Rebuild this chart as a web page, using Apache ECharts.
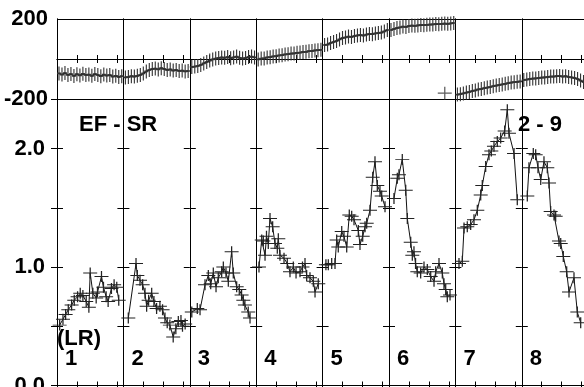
<!DOCTYPE html>
<html><head><meta charset="utf-8">
<script src="https://cdn.jsdelivr.net/npm/echarts@6/dist/echarts.min.js"></script>
<style>html,body{margin:0;padding:0;background:#fff}#c{width:584px;height:387px}</style>
</head><body><div id="c"></div>
<script>
// ---------- data ----------
const panelLabels = ['1', '2', '3', '4', '5', '6', '7', '8'];
const titleLeft = 'EF - SR';
const titleRight = '2 - 9';
const cornerLabel = '(LR)';
const phaseTickLabels = { '200': '200', '-200': '-200' };
const amplTickLabels = { '0': '0.0', '1': '1.0', '2': '2.0' };

// phase panel (top): x positions inside each panel (0..10) and values (deg)
const phaseX = [0.3, 0.75, 1.2, 1.65, 2.1, 2.55, 3.0, 3.45, 3.9, 4.35, 4.8, 5.25, 5.7, 6.15, 6.6, 7.05, 7.5, 7.95, 8.4, 8.85, 9.3, 9.75];
const ph1 = [-72, -78, -70, -80, -75, -85, -76, -82, -74, -80, -78, -84, -75, -80, -86, -78, -83, -80, -88, -84, -90, -86];
const ph2 = [-92, -90, -86, -88, -84, -80, -72, -62, -55, -50, -48, -52, -46, -50, -55, -52, -58, -55, -60, -58, -62, -60];
const ph3 = [-40, -38, -35, -30, -22, -15, -8, -2, 2, 5, 8, 6, 10, 4, 8, 12, 6, 2, 5, 10, 12, 8];
const ph4 = [-2, 2, 3, 8, 9, 13, 14, 18, 19, 23, 24, 27, 28, 31, 32, 35, 36, 39, 40, 43, 44, 46];
const ph5 = [70, 72, 80, 85, 90, 98, 105, 108, 112, 110, 115, 118, 120, 117, 122, 125, 124, 128, 130, 132, 138, 145];
const ph6 = [145, 150, 155, 158, 162, 160, 165, 167, 166, 168, 170, 169, 171, 172, 173, 175, 174, 176, 177, 176, 178, 180];
const ph7 = [-178, -176, -172, -168, -165, -160, -157, -152, -150, -146, -143, -140, -136, -133, -130, -127, -124, -121, -118, -116, -114, -112];
const ph8 = [-105, -103, -100, -98, -97, -95, -93, -92, -90, -88, -88, -86, -85, -88, -86, -90, -92, -95, -100, -108, -115, -125];
const ph6Wrapped = [[8.4, -171]];

// amplitude panel (bottom): [x inside panel (0..10), value]
const am1 = [[0.4,0.51],[0.9,0.56],[1.3,0.60],[1.7,0.64],[2.2,0.68],[2.6,0.72],[3.1,0.75],[3.5,0.78],[3.9,0.76],[4.4,0.71],[4.8,0.66],[5.0,0.95],[5.4,0.78],[5.9,0.74],[6.1,0.79],[6.7,0.92],[7.0,0.83],[7.4,0.75],[7.7,0.71],[8.2,0.82],[8.6,0.85],[9.0,0.83],[9.3,0.72]];
const am2 = [[0.74,0.57],[1.9,1.03],[2.1,0.93],[2.5,0.89],[2.9,0.85],[3.25,0.78],[3.5,0.67],[3.8,0.72],[4.26,0.78],[4.6,0.71],[5.0,0.65],[5.5,0.67],[5.9,0.64],[6.26,0.57],[6.6,0.53],[7.0,0.51],[7.5,0.41],[7.9,0.48],[8.27,0.54],[8.67,0.55],[8.9,0.50],[9.3,0.52]];
const am3 = [[0.3,0.62],[1.13,0.65],[1.54,0.64],[2.29,0.85],[2.79,0.93],[3.15,0.86],[3.54,0.95],[3.95,0.835],[4.29,0.91],[4.8,0.96],[5.05,1.0],[5.45,0.95],[5.8,0.88],[6.3,1.13],[6.55,0.95],[7.06,0.835],[7.45,0.81],[7.8,0.765],[8.06,0.72],[8.3,0.68],[8.8,0.62],[9.07,0.57]];
const am4 = [[0.42,1.00],[0.83,1.23],[1.07,1.22],[1.33,1.10],[1.55,1.26],[1.82,1.20],[2.08,1.41],[2.48,1.34],[2.83,1.20],[3.18,1.16],[3.33,1.24],[3.58,1.10],[4.19,1.075],[4.68,1.03],[5.09,0.96],[5.59,1.0],[6.0,0.95],[6.6,0.96],[6.97,1.0],[7.35,1.03],[7.6,0.93],[8.1,0.91],[8.6,0.88],[8.86,0.79],[9.35,0.86]];
const am5 = [[0.5,1.02],[0.86,1.02],[1.37,1.03],[1.87,1.03],[2.12,1.23],[2.36,1.17],[2.88,1.30],[3.22,1.26],[3.63,1.17],[4.02,1.44],[4.38,1.43],[4.73,1.40],[5.38,1.31],[5.63,1.19],[6.04,1.26],[6.39,1.34],[6.64,1.37],[7.14,1.48],[7.55,1.76],[7.89,1.89],[8.24,1.69],[8.64,1.64],[8.9,1.60],[9.4,1.51]];
const am6 = [[0.75,1.58],[1.25,1.75],[1.5,1.78],[2.0,1.91],[2.52,1.65],[2.76,1.41],[3.27,1.21],[3.51,1.10],[3.76,1.13],[4.0,1.03],[4.26,0.96],[4.77,0.95],[5.27,1.0],[5.77,0.98],[6.28,0.92],[6.78,0.88],[7.03,0.96],[7.53,1.03],[8.03,0.95],[8.28,0.86],[8.54,0.81],[8.78,0.75],[9.19,0.765]];
const am7 = [[0.54,1.03],[1.04,1.05],[1.3,1.33],[1.79,1.34],[2.3,1.36],[2.8,1.40],[3.3,1.48],[3.81,1.61],[4.05,1.69],[4.56,1.85],[5.06,1.95],[5.41,1.98],[5.81,2.02],[6.31,2.06],[6.82,2.09],[7.42,2.15],[7.82,2.33],[8.07,2.13],[8.83,1.96],[9.32,1.57]];
const am8 = [[0.83,1.60],[1.08,1.84],[1.73,1.96],[2.09,1.95],[2.44,1.84],[2.85,1.74],[3.34,1.89],[3.84,1.84],[4.1,1.71],[4.35,1.47],[4.85,1.44],[5.1,1.43],[5.6,1.22],[5.86,1.20],[6.25,1.09],[6.76,0.96],[7.11,0.79],[7.86,0.91],[8.36,0.62],[8.87,0.53]];

// ---------- layout / style ----------
const FONT = "'Liberation Sans', Arial, Helvetica, sans-serif";
const L0 = 57, PW = 66.4, T0 = 19, TH = 80, BH = 286.5;
const PLUS = 'path://M0,4.55H10V5.45H0Z M4.55,0H5.45V10H4.55Z';
const PHASE_MARK = 'path://M0,4.4H10V5.6H0Z M3.6,0H6.4V10H3.6Z';
const phases = [ph1, ph2, ph3, ph4, ph5, ph6, ph7, ph8];
const ampls = [am1, am2, am3, am4, am5, am6, am7, am8];

const grid = [], xAxis = [], yAxis = [], series = [];
const line = { show: true, lineStyle: { color: '#000', width: 1 } };
const labelText = { fontFamily: FONT, fontWeight: 'bold', fontSize: 22, color: '#000' };

for (let k = 0; k < panelLabels.length; k++) {
  const left = L0 + k * PW;
  const gT = grid.length;
  grid.push({ left: left, top: T0, width: PW, height: TH, outerBoundsMode: 'none', containLabel: false });
  const gB = grid.length;
  grid.push({ left: left, top: T0 + TH, width: PW, height: BH, outerBoundsMode: 'none', containLabel: false });

  [gT, gB].forEach(g => {
    ['bottom', 'top'].forEach(pos => xAxis.push({
      gridIndex: g, type: 'value', min: 0, max: 10, interval: 3, position: pos,
      axisLine: line, axisTick: { show: true, inside: true, length: 4, lineStyle: { color: '#000' } },
      axisLabel: { show: false }, splitLine: { show: false }
    }));
  });
  // top (phase) y axes
  yAxis.push({
    gridIndex: gT, type: 'value', min: -200, max: 200, interval: 200, position: 'left',
    axisLine: line, axisTick: { show: false },
    splitLine: { show: true, lineStyle: { color: '#000', width: 1 } },
    axisLabel: Object.assign({ show: k === 0, margin: 9,
      formatter: v => phaseTickLabels[String(Math.round(v))] || '' }, labelText)
  });
  yAxis.push({
    gridIndex: gT, type: 'value', min: -200, max: 200, interval: 200, position: 'right',
    axisLine: line, axisTick: { show: false }, splitLine: { show: false }, axisLabel: { show: false }
  });
  // bottom (amplitude) y axes
  yAxis.push({
    gridIndex: gB, type: 'value', min: 0, max: 2.42, interval: 0.5, position: 'left',
    axisLine: line, axisTick: { show: true, inside: true, length: 6, lineStyle: { color: '#000' } },
    splitLine: { show: false },
    axisLabel: Object.assign({ show: k === 0, margin: 12,
      formatter: v => (Math.abs(v - Math.round(v)) < 1e-6 ? (amplTickLabels[String(Math.round(v))] || '') : '') }, labelText)
  });
  yAxis.push({
    gridIndex: gB, type: 'value', min: 0, max: 2.42, interval: 0.5, position: 'right',
    axisLine: line, axisTick: { show: true, inside: true, length: 6, lineStyle: { color: '#000' } },
    splitLine: { show: false }, axisLabel: { show: false }
  });

  series.push({
    type: 'line', xAxisIndex: 2 * gT, yAxisIndex: 2 * gT,
    data: phaseX.map((x, i) => [x, phases[k][i]]),
    symbol: PHASE_MARK, symbolSize: [4, 14], showAllSymbol: true,
    itemStyle: { color: '#333' }, lineStyle: { color: '#000', width: 1.5 }, z: 3
  });
  series.push({
    type: 'line', xAxisIndex: 2 * gB, yAxisIndex: 2 * gB,
    data: ampls[k],
    symbol: PLUS, symbolSize: [14, 11], showAllSymbol: true,
    itemStyle: { color: '#222' }, lineStyle: { color: '#111', width: 1 }, z: 3
  });
}
// wrapped phase point in panel 6
series.push({
  type: 'scatter', xAxisIndex: 2 * 10, yAxisIndex: 2 * 10, data: ph6Wrapped,
  symbol: PLUS, symbolSize: [14, 13], itemStyle: { color: '#333' }, z: 3
});

const txt = (s, x, y) => ({ type: 'text', left: x, top: y, z: 100,
  style: { text: s, font: 'bold 22px ' + FONT, fill: '#000' } });
const graphic = [
  txt(titleLeft, 79, 114),
  txt(titleRight, 518, 114),
  txt(cornerLabel, 57, 328)
];
panelLabels.forEach((s, k) => graphic.push(txt(s, L0 + k * PW + 8, 348)));

const chart = echarts.init(document.getElementById('c'), null, { renderer: 'canvas' });
chart.setOption({
  animation: false, backgroundColor: '#fff',
  grid, xAxis, yAxis, series, graphic
});
</script></body></html>
